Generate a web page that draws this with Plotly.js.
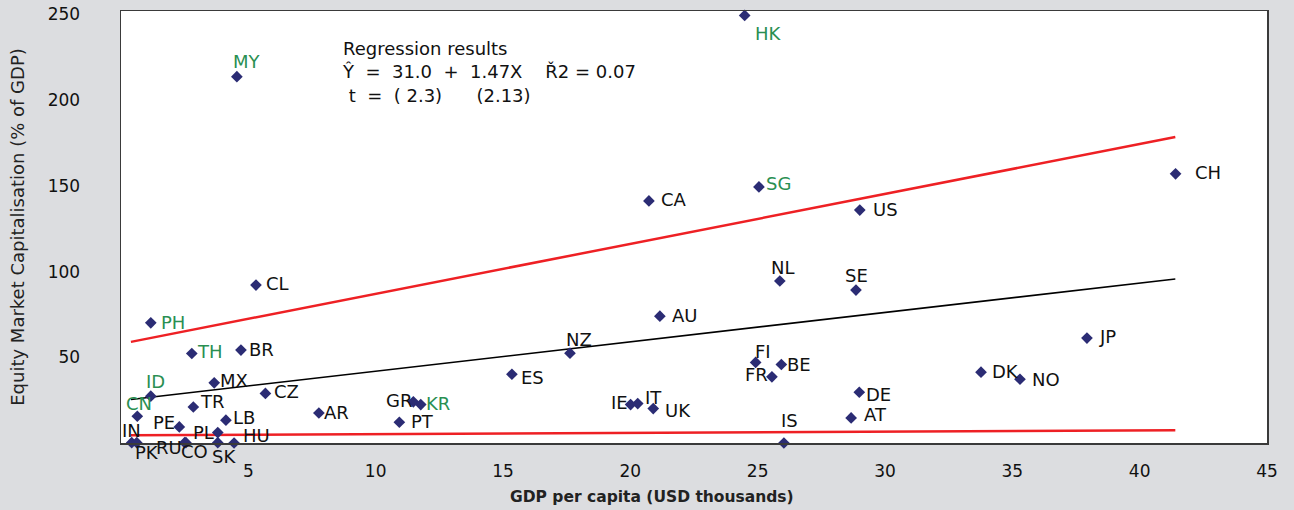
<!DOCTYPE html>
<html>
<head>
<meta charset="utf-8">
<script src="https://cdn.plot.ly/plotly-3.0.1.min.js"></script>
<style>html,body{margin:0;padding:0;background:#dcdde0;}#chart{width:1294px;height:510px;}</style>
</head>
<body>
<div id="chart"></div>
<script>
// ---- data ----
const countries = ["HK","MY","SG","CA","CH","US","CL","NL","SE","PH","AU","JP","TH","BR","NZ","FI","BE","FR","ES","DK","NO","MX","ID","CZ","DE","TR","AR","GR","KR","CN","LB","PT","PE","IE","IT","UK","AT","IS","PL","SK","HU","RU","CO","IN","PK"];
const gdpPerCapita = [24.49,4.55,25.05,20.73,41.41,29.01,5.30,25.87,28.86,1.17,21.16,37.93,2.78,4.71,17.63,24.92,25.93,25.56,15.35,33.77,35.30,3.66,1.17,5.67,28.99,2.84,7.77,11.48,11.77,0.64,4.12,10.93,2.29,20.01,20.29,20.90,28.67,26.03,3.80,3.80,4.44,2.50,2.55,0.42,0.62];
const marketCap = [249.4,213.7,149.4,141.2,157.0,135.9,92.1,94.5,89.2,70.1,74.0,61.2,52.2,54.2,52.4,47.0,45.8,38.6,40.1,41.3,37.2,35.1,27.3,28.9,29.6,21.0,17.5,24.0,22.4,15.6,13.3,12.1,9.4,22.4,23.0,20.1,14.6,0.0,6.1,0.2,0.0,0.2,0.2,0.2,0.2];
const asianEmerging = ["HK","MY","SG","PH","TH","ID","CN","KR"];

const fitX = [0.39, 41.4];
const fitY = [25.4, 95.7];
const upperY = [59.0, 178.5];
const lowerY = [4.5, 7.4];

const xTicks = [5,10,15,20,25,30,35,40,45];
const yTicks = [50,100,150,200,250];

const xTitle = "GDP per capita (USD thousands)";
const yTitle = "Equity Market Capitalisation (% of GDP)";

// ---- label placement (pixel offsets of label centre from marker) ----
const labelDx = [24,10,20,25,32,26,22,3,1,22,25,21,18,21,9,7,18,-15,21,24,26,20,5,21,19,19,18,-14,17,2,18,23,-15,-11,16,25,24,6,-14,6,22,-16,9,0,10];
const labelDy = [18,-15,-3,-1,-1,-1,-2,-14,-15,0,-1,-2,-2,-1,-14,-11,0,-2,3,-1,0,-2,-15,-2,2,-6,-1,-1,-1,-13,-3,-1,-4,-2,-6,2,-3,-23,0,14,-8,5,9,-12,10];

const FONT = "DejaVu Sans, Verdana, sans-serif";
const GREEN = "#2a8f52";

const traces = [
  {x: fitX, y: upperY, mode: "lines", line: {color: "#ee2024", width: 2.5}, hoverinfo: "skip"},
  {x: fitX, y: fitY, mode: "lines", line: {color: "#000000", width: 1.6}, hoverinfo: "skip"},
  {x: fitX, y: lowerY, mode: "lines", line: {color: "#ee2024", width: 2.5}, hoverinfo: "skip"},
  {x: gdpPerCapita, y: marketCap, text: countries, mode: "markers", cliponaxis: false,
   marker: {symbol: "diamond", size: 9, color: "#2b2c74"}, hoverinfo: "text+x+y"}
];

const annotations = countries.map((c, i) => ({
  x: gdpPerCapita[i], y: marketCap[i], xref: "x", yref: "y",
  text: c, showarrow: false, xanchor: "center", yanchor: "middle",
  xshift: labelDx[i], yshift: -labelDy[i],
  font: {family: FONT, size: 18, color: asianEmerging.includes(c) ? GREEN : "#111111"}
}));

const S = "\u00a0";
annotations.push({
  xref: "paper", yref: "paper", x: 0.1911, y: 0.942, xanchor: "left", yanchor: "top",
  align: "left", showarrow: false,
  font: {family: FONT, size: 18, color: "#111111"},
  text: "Regression results<br>Ŷ" + S+S + "=" + S+S + "31.0" + S+S + "+" + S+S + "1.47X" + S+S+S+S + "Ř2 = 0.07<br>" + S + "t" + S+S + "=" + S+S + "(" + S + "2.3)" + S+S+S+S+S+S + "(2.13)"
});

annotations.push({
  xref: "paper", yref: "paper", x: 0.4634, y: -0.125, xanchor: "center", yanchor: "middle",
  showarrow: false, text: "<b>" + xTitle + "</b>",
  font: {family: FONT, size: 15.5, color: "#222222"}
});

const layout = {
  width: 1294, height: 510,
  paper_bgcolor: "#dcdde0", plot_bgcolor: "#ffffff",
  margin: {l: 121, r: 27, t: 11, b: 67},
  showlegend: false,
  font: {family: FONT, size: 17, color: "#111111"},
  xaxis: {
    range: [0, 45], tickvals: xTicks, ticktext: xTicks.map(String),
    showgrid: false, zeroline: false,
    showline: true, mirror: true, linecolor: "#3a3a3a", linewidth: 1.5,
    ticks: "", ticklabelstandoff: 12,
    tickfont: {family: FONT, size: 17, color: "#111111"}
  },
  yaxis: {
    range: [0, 252], tickvals: yTicks, ticktext: yTicks.map(String),
    showgrid: false, zeroline: false,
    showline: true, mirror: true, linecolor: "#3a3a3a", linewidth: 1.5,
    ticks: "", ticklabelstandoff: 36,
    tickfont: {family: FONT, size: 17, color: "#111111"},
    title: {text: yTitle, font: {family: FONT, size: 18, color: "#222222"}, standoff: 18}
  },
  annotations: annotations
};

Plotly.newPlot("chart", traces, layout, {displayModeBar: false, staticPlot: true});
</script>
</body>
</html>
